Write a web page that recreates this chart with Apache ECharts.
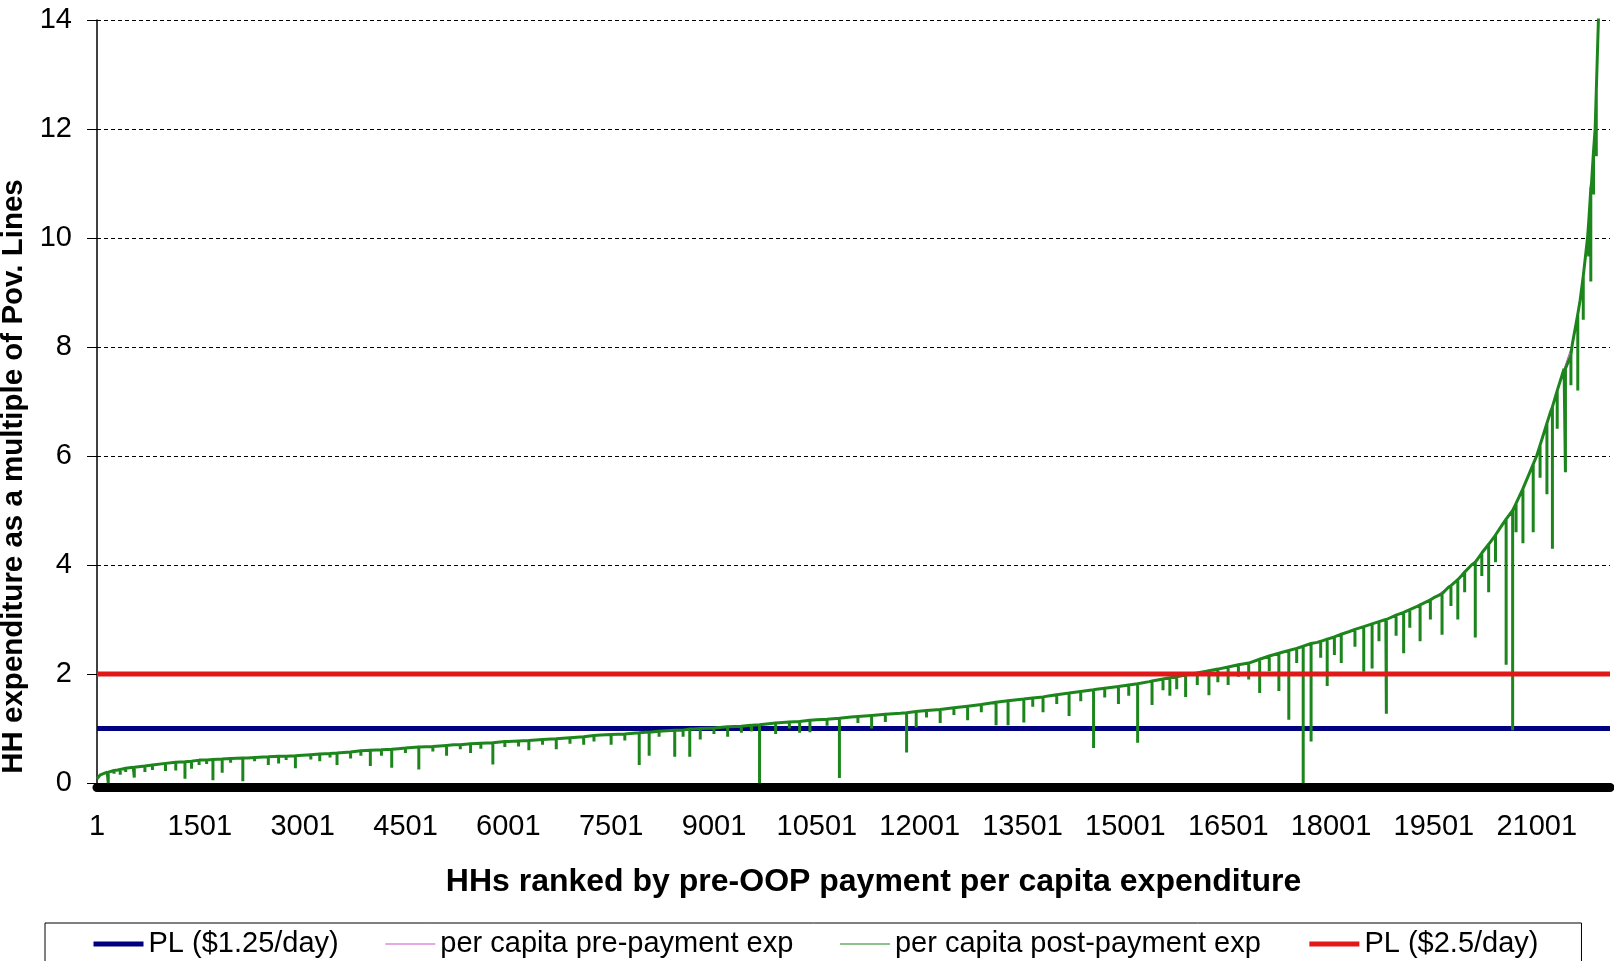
<!DOCTYPE html>
<html><head><meta charset="utf-8">
<script src="https://cdn.jsdelivr.net/npm/echarts@6/dist/echarts.min.js"></script>
<style>html,body{margin:0;padding:0;background:#fff}#c{width:1614px;height:961px}</style>
</head><body><div id="c"></div>
<script>
// ---- data ----
const seriesNames = ['PL ($1.25/day)', 'per capita pre-payment exp', 'per capita post-payment exp', 'PL ($2.5/day)'];
const xFirst = 1, xStep = 1500, xLast = 22070;
const yMin = 0, yMax = 14, yStep = 2;
const povLine125 = 1;
const povLine25 = 2;
// upper envelope (pre-payment per capita expenditure), HH rank -> multiple of PL
const envRank = [1, 50, 150, 300, 530, 1000, 1520, 2200, 3000, 3700, 4400, 5200, 6000, 6800, 7350, 8000, 8700, 9540, 10500, 11000, 11720, 12500, 13170, 13900, 14580, 15350, 16180, 16800, 17290, 17800, 18270, 18800, 19240, 19500, 19720, 19900, 20050, 20200, 20500, 20650, 20800, 20900, 21000, 21100, 21200, 21300, 21400, 21520, 21634, 21742, 21800, 21853, 21901, 21950, 22000, 22070];
const envValue = [0.08, 0.15, 0.2, 0.24, 0.29, 0.36, 0.42, 0.46, 0.51, 0.57, 0.63, 0.7, 0.76, 0.82, 0.88, 0.93, 0.99, 1.06, 1.16, 1.21, 1.28, 1.38, 1.49, 1.6, 1.72, 1.86, 2.05, 2.2, 2.4, 2.58, 2.78, 3.0, 3.23, 3.4, 3.6, 3.8, 4.0, 4.22, 4.74, 5.0, 5.4, 5.7, 6.0, 6.4, 6.8, 7.2, 7.6, 8.05, 8.86, 10.0, 11.0, 12.0, 14.0, 16.5, 20.0, 35.0];
// large downward dips of post-payment expenditure (rank, value before dip, value at dip)
const spikeRank = [165, 340, 545, 700, 1000, 1150, 1284, 1380, 1692, 1827, 2128, 2500, 2650, 2895, 3250, 3502, 3700, 3988, 4300, 4695, 5100, 5450, 5775, 6300, 6700, 7100, 7500, 7910, 8055, 8428, 8647, 8800, 9200, 9665, 9900, 10250, 10400, 10830, 11300, 11810, 11950, 12300, 12700, 13115, 13290, 13520, 13800, 14180, 14537, 14900, 15180, 15390, 15650, 15880, 16220, 16500, 16960, 17240, 17385, 17595, 17710, 17945, 18150, 18478, 18600, 18808, 19060, 19300, 19620, 19850, 20105, 20300, 20555, 20650, 20800, 20950, 21150, 21230, 21420, 21600, 21760, 21790];
const spikeTop = [0.2, 0.25, 0.29, 0.31, 0.36, 0.38, 0.39, 0.4, 0.43, 0.44, 0.46, 0.48, 0.49, 0.5, 0.53, 0.55, 0.57, 0.6, 0.62, 0.66, 0.69, 0.72, 0.74, 0.78, 0.81, 0.85, 0.89, 0.92, 0.93, 0.97, 0.99, 1.0, 1.03, 1.07, 1.1, 1.13, 1.15, 1.19, 1.24, 1.29, 1.31, 1.35, 1.41, 1.48, 1.51, 1.54, 1.58, 1.65, 1.71, 1.77, 1.82, 1.87, 1.93, 1.98, 2.06, 2.13, 2.27, 2.38, 2.43, 2.51, 2.56, 2.64, 2.73, 2.87, 2.92, 3.0, 3.13, 3.27, 3.47, 3.73, 4.05, 4.38, 4.84, 5.0, 5.4, 5.85, 6.6, 6.9, 7.6, 8.6, 10.3, 10.9];
const spikeLow = [0.0, 0.15, 0.1, 0.2, 0.22, 0.23, 0.08, 0.26, 0.05, 0.19, 0.03, 0.33, 0.36, 0.27, 0.4, 0.33, 0.45, 0.31, 0.28, 0.25, 0.5, 0.55, 0.34, 0.6, 0.62, 0.7, 0.7, 0.33, 0.5, 0.48, 0.48, 0.8, 0.85, 0.0, 0.9, 0.92, 0.93, 0.09, 1.0, 0.56, 1.02, 1.1, 1.15, 1.06, 1.06, 1.11, 1.3, 1.23, 0.64, 1.45, 0.74, 1.43, 1.6, 1.58, 1.61, 1.8, 1.65, 1.69, 1.16, 0.0, 0.76, 1.78, 2.2, 2.04, 2.1, 1.27, 2.38, 2.6, 2.72, 3.0, 2.67, 3.5, 2.17, 0.97, 4.4, 4.6, 5.3, 4.3, 5.7, 7.2, 9.66, 9.2];
// small dips that make the dense band under the curve
const dipRank = [250, 420, 810, 1490, 1600, 1950, 2300, 2760, 3120, 3400, 3850, 4150, 4500, 4900, 5300, 5600, 5950, 6150, 6500, 6900, 7250, 7700, 8200, 8550, 9000, 9400, 9550, 10100, 10650, 11100, 11500, 12100, 12500, 12900, 13650, 14000, 14350, 14700, 15050, 15550, 15750, 16050, 16350, 16650, 16800, 17100, 17500, 17850, 18050, 18350, 18700, 18950, 19150, 19450, 19750, 19950, 20200, 20400, 20700, 21050, 21300, 21500, 21680, 21830, 21870];
const dipTop = [0.23, 0.27, 0.33, 0.42, 0.42, 0.45, 0.47, 0.49, 0.52, 0.54, 0.59, 0.61, 0.64, 0.67, 0.7, 0.73, 0.76, 0.77, 0.8, 0.83, 0.87, 0.9, 0.95, 0.97, 1.01, 1.04, 1.06, 1.12, 1.17, 1.22, 1.26, 1.33, 1.38, 1.44, 1.56, 1.62, 1.68, 1.74, 1.8, 1.91, 1.95, 2.02, 2.09, 2.17, 2.2, 2.33, 2.47, 2.6, 2.68, 2.82, 2.96, 3.08, 3.18, 3.36, 3.62, 3.87, 4.22, 4.55, 5.13, 6.2, 7.2, 7.85, 9.3, 11.6, 12.7];
const dipLow = [0.17, 0.2, 0.24, 0.33, 0.35, 0.37, 0.4, 0.42, 0.43, 0.47, 0.5, 0.5, 0.55, 0.58, 0.62, 0.63, 0.66, 0.67, 0.7, 0.72, 0.76, 0.78, 0.85, 0.85, 0.9, 0.92, 0.95, 1.0, 1.05, 1.1, 1.12, 1.2, 1.25, 1.3, 1.4, 1.45, 1.5, 1.57, 1.6, 1.7, 1.72, 1.8, 1.85, 1.95, 1.9, 2.05, 2.2, 2.3, 2.35, 2.5, 2.6, 2.7, 2.85, 3.0, 3.25, 3.5, 3.8, 4.05, 4.6, 5.6, 6.5, 7.3, 8.5, 10.8, 11.5];

// ---- build series ----
const preData = envRank.map((r, i) => [r, envValue[i]]);
const pts = [];
envRank.forEach((r, i) => pts.push({ r, s: 0, v: envValue[i] }));
function addDips(ranks, tops, lows) {
  ranks.forEach((r, i) => {
    pts.push({ r, s: 1, v: tops[i] });
    pts.push({ r, s: 2, v: lows[i] });
    pts.push({ r, s: 3, v: tops[i] });
  });
}
addDips(spikeRank, spikeTop, spikeLow);
addDips(dipRank, dipTop, dipLow);
pts.sort((a, b) => a.r - b.r || a.s - b.s);
const postData = pts.map(p => [p.r, p.v]);
const pl1Data = [[xFirst, povLine125], [xLast, povLine125]];
const pl2Data = [[xFirst, povLine25], [xLast, povLine25]];

const FONT = 'Liberation Sans, Arial, sans-serif';
const C_BLUE = '#000080', C_MAG = '#cc55cc', C_GREEN = '#1c861c', C_RED = '#e01818';
const chart = echarts.init(document.getElementById('c'), null, { renderer: 'canvas' });
chart.setOption({
  backgroundColor: '#fff',
  animation: false,
  textStyle: { fontFamily: FONT, color: '#000' },
  grid: { left: 97, right: 4, top: 20, bottom: 178, containLabel: false, outerBoundsMode: 'none' },
  legend: {
    data: [
      { name: seriesNames[0], lineStyle: { width: 5 } },
      { name: seriesNames[1], lineStyle: { width: 1.2 } },
      { name: seriesNames[2], lineStyle: { width: 1.2 } },
      { name: seriesNames[3], lineStyle: { width: 5 } }
    ],
    left: 45, top: 923,
    orient: 'horizontal',
    itemWidth: 50, itemHeight: 10, itemGap: 46,
    padding: [6, 43, 20, 46],
    borderColor: '#000', borderWidth: 1,
    itemStyle: { opacity: 0 },
    textStyle: { fontSize: 29, fontFamily: FONT, color: '#000', lineHeight: 30 },
    selectedMode: false
  },
  xAxis: [{
    type: 'value', min: xFirst, max: xLast, interval: xStep,
    name: 'HHs ranked by pre-OOP payment per capita expenditure',
    nameLocation: 'middle', nameGap: 83,
    nameTextStyle: { fontSize: 32, fontWeight: 'bold', fontFamily: FONT, color: '#000', padding: [0, 0, 0, 40] },
    axisLine: { show: true, lineStyle: { color: '#000', width: 1 } },
    axisTick: { show: false },
    splitLine: { show: false },
    axisLabel: { fontSize: 29, color: '#000', fontFamily: FONT, margin: 29, showMaxLabel: false,
      formatter: v => String(Math.round(v)) }
  }, {
    type: 'value', min: xFirst, max: xLast, position: 'bottom', offset: 4,
    axisLine: { show: true, lineStyle: { color: '#000', width: 9 } },
    axisTick: { show: false }, axisLabel: { show: false }, splitLine: { show: false }
  }],
  yAxis: {
    type: 'value', min: yMin, max: yMax, interval: yStep,
    name: 'HH expenditure as a multiple of Pov. Lines',
    nameLocation: 'middle', nameGap: 57, nameRotate: 90,
    nameTextStyle: { fontSize: 29.5, fontWeight: 'bold', fontFamily: FONT, color: '#000', padding: [0, 150, 0, 0] },
    axisLine: { show: true, lineStyle: { color: '#000', width: 1.5 } },
    axisTick: { show: true, length: 10, lineStyle: { color: '#000', width: 1 } },
    splitLine: { show: true, lineStyle: { color: '#000', width: 1, type: [4, 3] } },
    axisLabel: { fontSize: 29, color: '#000', fontFamily: FONT, margin: 25 }
  },
  series: [
    { name: seriesNames[0], type: 'line', data: pl1Data, symbol: 'none', z: 2,
      lineStyle: { color: C_BLUE, width: 5 }, itemStyle: { color: C_BLUE } },
    { name: seriesNames[1], type: 'line', data: preData, symbol: 'none', z: 3,
      lineStyle: { color: C_MAG, width: 1 }, itemStyle: { color: C_MAG } },
    { name: seriesNames[2], type: 'line', data: postData, symbol: 'none', z: 4,
      lineStyle: { color: C_GREEN, width: 3 }, itemStyle: { color: C_GREEN } },
    { name: seriesNames[3], type: 'line', data: pl2Data, symbol: 'none', z: 5,
      lineStyle: { color: C_RED, width: 5 }, itemStyle: { color: C_RED } }
  ]
});
</script></body></html>
